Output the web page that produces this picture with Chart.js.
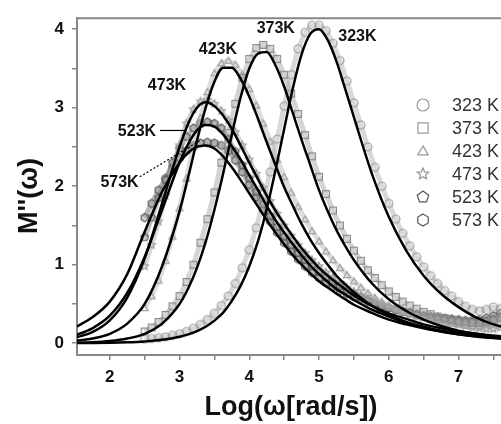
<!DOCTYPE html>
<html lang="en">
<head>
<meta charset="UTF-8">
<title>M''(ω) vs Log(ω)</title>
<script src="https://cdn.jsdelivr.net/npm/chart.js"></script>
<style>
  html, body { margin: 0; padding: 0; overflow: hidden; background: #fff; }
  #wrap { width: 540px; height: 424px; }
</style>
</head>
<body>
<div id="wrap"><canvas id="modulusChart" width="540" height="424"></canvas></div>
<script>
// temperatures (legend order)
const temps = ['323 K', '373 K', '423 K', '473 K', '523 K', '573 K'];

// fitted curves, x = Log(ω)
const fitLogW = [1.5, 1.75, 2, 2.25, 2.5, 2.75, 3, 3.125, 3.25, 3.375, 3.5, 3.625, 3.75, 3.875, 4, 4.125, 4.25, 4.375, 4.5, 4.625, 4.75, 4.875, 5, 5.125, 5.25, 5.375, 5.5, 5.75, 6, 6.25, 6.5, 6.75, 7, 7.25, 7.5, 7.75, 8];
const fit323 = [0.002, 0.003, 0.006, 0.012, 0.023, 0.043, 0.082, 0.112, 0.154, 0.21, 0.288, 0.39, 0.54, 0.73, 0.98, 1.30, 1.71, 2.2, 2.73, 3.25, 3.68, 3.94, 4.0, 3.86, 3.59, 3.24, 2.88, 2.18, 1.61, 1.18, 0.86, 0.63, 0.46, 0.33, 0.24, 0.18, 0.13];
const fit373 = [0.005, 0.012, 0.028, 0.06, 0.12, 0.25, 0.5, 0.7, 0.96, 1.29, 1.70, 2.16, 2.66, 3.13, 3.50, 3.69, 3.71, 3.54, 3.27, 2.93, 2.59, 2.27, 1.95, 1.68, 1.44, 1.24, 1.06, 0.77, 0.56, 0.41, 0.30, 0.22, 0.16, 0.12, 0.084, 0.06, 0.045];
const fit423 = [0.03, 0.06, 0.12, 0.25, 0.50, 0.98, 1.68, 2.12, 2.58, 3.0, 3.33, 3.51, 3.51, 3.37, 3.14, 2.86, 2.56, 2.27, 1.99, 1.75, 1.52, 1.32, 1.15, 1.0, 0.86, 0.75, 0.65, 0.48, 0.36, 0.27, 0.20, 0.15, 0.115, 0.086, 0.065, 0.049, 0.037];
const fit473 = [0.07, 0.14, 0.29, 0.58, 1.08, 1.78, 2.5, 2.8, 3.0, 3.07, 3.02, 2.90, 2.73, 2.52, 2.30, 2.09, 1.88, 1.69, 1.52, 1.36, 1.21, 1.08, 0.96, 0.86, 0.77, 0.69, 0.61, 0.48, 0.38, 0.31, 0.24, 0.19, 0.15, 0.12, 0.097, 0.077, 0.06];
const fit523 = [0.10, 0.19, 0.35, 0.64, 1.10, 1.70, 2.30, 2.54, 2.71, 2.78, 2.76, 2.66, 2.51, 2.34, 2.14, 1.95, 1.75, 1.57, 1.41, 1.26, 1.12, 0.99, 0.88, 0.78, 0.69, 0.62, 0.55, 0.43, 0.34, 0.26, 0.21, 0.16, 0.13, 0.10, 0.079, 0.062, 0.05];
const fit573 = [0.20, 0.33, 0.53, 0.88, 1.42, 1.93, 2.30, 2.43, 2.50, 2.52, 2.48, 2.38, 2.24, 2.08, 1.91, 1.74, 1.57, 1.41, 1.26, 1.12, 1.0, 0.89, 0.79, 0.71, 0.63, 0.56, 0.49, 0.39, 0.30, 0.24, 0.19, 0.15, 0.115, 0.09, 0.071, 0.056, 0.045];

// measured points, x = Log(ω)
const dataLogW = [2.5, 2.6, 2.7, 2.8, 2.9, 3.0, 3.1, 3.2, 3.3, 3.4, 3.5, 3.6, 3.7, 3.8, 3.9, 4.0, 4.1, 4.2, 4.3, 4.4, 4.5, 4.6, 4.7, 4.8, 4.9, 5.0, 5.1, 5.2, 5.3, 5.4, 5.5, 5.6, 5.7, 5.8, 5.9, 6.0, 6.1, 6.2, 6.3, 6.4, 6.5, 6.6, 6.7, 6.8, 6.9, 7.0, 7.1, 7.2, 7.3, 7.4, 7.5, 7.6];
const m323 = [0.05, 0.06, 0.07, 0.08, 0.1, 0.12, 0.15, 0.19, 0.24, 0.3, 0.38, 0.48, 0.6, 0.76, 0.96, 1.19, 1.47, 1.8, 2.18, 2.6, 3.02, 3.42, 3.75, 3.96, 4.05, 4.05, 3.98, 3.82, 3.6, 3.34, 3.06, 2.78, 2.5, 2.24, 2.0, 1.78, 1.58, 1.4, 1.24, 1.1, 0.97, 0.86, 0.76, 0.67, 0.6, 0.53, 0.47, 0.43, 0.41, 0.43, 0.46, 0.44];
const m373 = [0.15, 0.2, 0.27, 0.36, 0.47, 0.6, 0.78, 1.0, 1.28, 1.58, 1.92, 2.3, 2.68, 3.05, 3.38, 3.62, 3.76, 3.8, 3.75, 3.62, 3.42, 3.18, 2.92, 2.65, 2.38, 2.12, 1.9, 1.69, 1.5, 1.33, 1.18, 1.05, 0.93, 0.83, 0.74, 0.66, 0.59, 0.53, 0.48, 0.44, 0.4, 0.37, 0.34, 0.32, 0.3, 0.28, 0.27, 0.26, 0.26, 0.27, 0.3, 0.32];
const m423 = [0.45, 0.6, 0.8, 1.05, 1.36, 1.72, 2.1, 2.5, 2.87, 3.2, 3.44, 3.57, 3.6, 3.55, 3.42, 3.24, 3.03, 2.8, 2.57, 2.34, 2.12, 1.92, 1.74, 1.58, 1.43, 1.3, 1.17, 1.06, 0.96, 0.87, 0.79, 0.71, 0.64, 0.58, 0.53, 0.48, 0.44, 0.4, 0.37, 0.34, 0.32, 0.3, 0.28, 0.26, 0.25, 0.24, 0.23, 0.22, 0.22, 0.23, 0.25, 0.27];
const m473 = [0.98, 1.25, 1.55, 1.88, 2.2, 2.52, 2.8, 2.98, 3.08, 3.1, 3.05, 2.96, 2.84, 2.69, 2.52, 2.34, 2.16, 1.98, 1.81, 1.65, 1.5, 1.37, 1.25, 1.15, 1.06, 0.98, 0.9, 0.83, 0.77, 0.71, 0.66, 0.61, 0.57, 0.53, 0.49, 0.46, 0.43, 0.4, 0.38, 0.36, 0.34, 0.32, 0.3, 0.28, 0.26, 0.24, 0.22, 0.2, 0.19, 0.18, 0.18, 0.2];
const m523 = [1.35, 1.6, 1.85, 2.08, 2.3, 2.48, 2.63, 2.74, 2.8, 2.82, 2.8, 2.74, 2.6, 2.44, 2.27, 2.1, 1.93, 1.77, 1.62, 1.48, 1.36, 1.25, 1.15, 1.06, 0.98, 0.91, 0.84, 0.78, 0.73, 0.68, 0.63, 0.59, 0.55, 0.51, 0.48, 0.45, 0.42, 0.4, 0.38, 0.36, 0.34, 0.32, 0.31, 0.3, 0.29, 0.28, 0.27, 0.27, 0.27, 0.28, 0.3, 0.33];
const m573 = [1.6, 1.78, 1.95, 2.1, 2.24, 2.36, 2.45, 2.52, 2.55, 2.56, 2.55, 2.52, 2.45, 2.33, 2.18, 2.02, 1.86, 1.7, 1.55, 1.41, 1.28, 1.17, 1.07, 0.98, 0.9, 0.83, 0.77, 0.72, 0.67, 0.63, 0.59, 0.56, 0.53, 0.5, 0.47, 0.45, 0.43, 0.41, 0.39, 0.37, 0.35, 0.34, 0.33, 0.32, 0.31, 0.3, 0.29, 0.29, 0.3, 0.32, 0.35, 0.38];

// peak labels (data coordinates)
const peakText = ['323K', '373K', '423K', '473K', '523K', '573K'];
const peakX = [5.55, 4.38, 3.55, 2.82, 2.39, 2.14];
const peakY = [3.90, 4.01, 3.74, 3.28, 2.69, 2.04];

const FONT = "'Liberation Sans', Arial, sans-serif";

// marker images
function makeMarker(shape, size, stroke, fill) {
    const c = document.createElement('canvas');
    c.width = c.height = size + 4;
    const g = c.getContext('2d');
    const cx = c.width / 2, cy = c.height / 2, r = size / 2;
    g.beginPath();
    if (shape === 'circle') {
        g.arc(cx, cy, r, 0, Math.PI * 2);
    } else if (shape === 'square') {
        g.rect(cx - r * 0.85, cy - r * 0.85, r * 1.7, r * 1.7);
    } else if (shape === 'star') {
        for (let k = 0; k < 10; k++) {
            const rr = k % 2 ? r * 0.45 : r;
            const a = -Math.PI / 2 + k * Math.PI / 5;
            g.lineTo(cx + rr * Math.cos(a), cy + rr * Math.sin(a));
        }
    } else {
        const n = shape === 'triangle' ? 3 : shape === 'pentagon' ? 5 : 6;
        for (let k = 0; k < n; k++) {
            const a = -Math.PI / 2 + k * 2 * Math.PI / n;
            g.lineTo(cx + r * Math.cos(a), cy + r * Math.sin(a) + (n === 3 ? r * 0.15 : 0));
        }
    }
    g.closePath();
    if (fill) { g.fillStyle = fill; g.fill(); }
    g.strokeStyle = stroke;
    g.lineWidth = 1.2;
    g.stroke();
    return c;
}

const looks = [
    { shape: 'circle',   stroke: '#9a9a9a', fill: null,                     band: 'rgba(170,170,170,0.45)' },
    { shape: 'square',   stroke: '#8a8a8a', fill: null,                     band: 'rgba(160,160,160,0.45)' },
    { shape: 'triangle', stroke: '#a0a0a0', fill: null,                     band: 'rgba(180,180,180,0.45)' },
    { shape: 'star',     stroke: '#9a9a9a', fill: null,                     band: 'rgba(170,170,170,0.45)' },
    { shape: 'pentagon', stroke: '#555555', fill: 'rgba(170,170,170,0.5)',  band: 'rgba(110,110,110,0.45)' },
    { shape: 'hexagon',  stroke: '#555555', fill: 'rgba(170,170,170,0.5)',  band: 'rgba(100,100,100,0.45)' }
];

const fits = [fit323, fit373, fit423, fit473, fit523, fit573];
const meas = [m323, m373, m423, m473, m523, m573];

const datasets = [];
meas.forEach((m, i) => {
    datasets.push({
        label: temps[i],
        data: dataLogW.map((x, j) => ({ x: x, y: m[j] })),
        showLine: true,
        borderColor: looks[i].band,
        borderWidth: 5,
        pointStyle: makeMarker(looks[i].shape, 8, looks[i].stroke, looks[i].fill),
        pointRadius: 4,
        order: 2
    });
});
fits.forEach((f, i) => {
    datasets.push({
        label: temps[i] + ' fit',
        data: fitLogW.map((x, j) => ({ x: x, y: f[j] })),
        showLine: true,
        borderColor: '#000',
        borderWidth: 2.5,
        pointRadius: 0,
        cubicInterpolationMode: 'monotone',
        order: 1
    });
});

// frame, titles, legend and peak labels
const decor = {
    id: 'decor',
    afterDatasetsDraw(chart) {
        const ctx = chart.ctx;
        const a = chart.chartArea;
        const xs = chart.scales.x, ys = chart.scales.y;
        ctx.save();
        ctx.strokeStyle = '#888';
        ctx.lineWidth = 2;
        ctx.beginPath();
        ctx.moveTo(a.left, a.top);
        ctx.lineTo(a.right, a.top);
        ctx.lineTo(a.right, a.bottom);
        ctx.stroke();

        // peak labels
        ctx.fillStyle = '#111';
        ctx.font = 'bold 16px ' + FONT;
        ctx.textAlign = 'center';
        ctx.textBaseline = 'middle';
        peakText.forEach((t, i) => {
            ctx.fillText(t, xs.getPixelForValue(peakX[i]), ys.getPixelForValue(peakY[i]));
        });
        // pointers for 523K and 573K
        ctx.strokeStyle = '#000';
        ctx.lineWidth = 1.2;
        ctx.beginPath();
        ctx.moveTo(xs.getPixelForValue(2.72), ys.getPixelForValue(2.71));
        ctx.lineTo(xs.getPixelForValue(3.10), ys.getPixelForValue(2.71));
        ctx.stroke();
        ctx.setLineDash([2, 2]);
        ctx.beginPath();
        ctx.moveTo(xs.getPixelForValue(2.43), ys.getPixelForValue(2.12));
        ctx.lineTo(xs.getPixelForValue(3.29), ys.getPixelForValue(2.58));
        ctx.stroke();
        ctx.setLineDash([]);

        // legend
        ctx.font = '18px ' + FONT;
        ctx.textAlign = 'left';
        ctx.fillStyle = '#333';
        temps.forEach((t, i) => {
            const y = 105 + i * 23;
            const img = makeMarker(looks[i].shape, 12, i >= 4 ? '#555' : '#999', null);
            ctx.drawImage(img, 423 - img.width / 2, y - img.height / 2);
            ctx.fillText(t, 452, y + 1);
        });

        // axis titles
        ctx.fillStyle = '#111';
        ctx.font = 'bold 27px ' + FONT;
        ctx.textAlign = 'center';
        ctx.fillText('Log(ω[rad/s])', 291, 408);
        ctx.translate(30, 196);
        ctx.rotate(-Math.PI / 2);
        ctx.fillText("M''(ω)", 0, 0);
        ctx.restore();
    }
};

const tickFont = { family: FONT, size: 17, weight: 'bold' };

new Chart(document.getElementById('modulusChart'), {
    type: 'scatter',
    data: { datasets: datasets },
    options: {
        responsive: false,
        animation: false,
        devicePixelRatio: 1,
        layout: { padding: { left: 0, top: 9, right: 11, bottom: 0 } },
        plugins: { legend: { display: false }, tooltip: { enabled: false } },
        scales: {
            x: {
                type: 'linear',
                min: 1.53,
                max: 8,
                afterFit: s => { s.height = 69; },
                ticks: {
                    stepSize: 0.5,
                    includeBounds: false,
                    autoSkip: false,
                    maxRotation: 0,
                    padding: 7,
                    color: '#111',
                    font: tickFont,
                    callback: v => Number.isInteger(v) ? v : ''
                },
                grid: { drawOnChartArea: false, drawTicks: true, tickLength: 5, color: '#888', lineWidth: 1.5 },
                border: { color: '#888', width: 2 }
            },
            y: {
                type: 'linear',
                min: -0.15,
                max: 4.14,
                afterFit: s => { s.width = 77; },
                ticks: {
                    stepSize: 0.5,
                    includeBounds: false,
                    autoSkip: false,
                    padding: 8,
                    color: '#111',
                    font: tickFont,
                    callback: v => Number.isInteger(v) ? v : ''
                },
                grid: { drawOnChartArea: false, drawTicks: true, tickLength: 5, color: '#888', lineWidth: 1.5 },
                border: { color: '#888', width: 2 }
            }
        }
    },
    plugins: [decor]
});
</script>
</body>
</html>
